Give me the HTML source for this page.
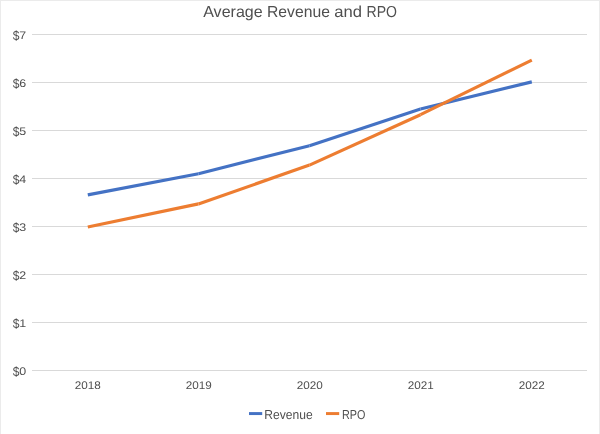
<!DOCTYPE html>
<html>
<head>
<meta charset="utf-8">
<title>Average Revenue and RPO</title>
<style>
html,body{margin:0;padding:0;background:#ffffff;}
body{width:600px;height:434px;overflow:hidden;font-family:"Liberation Sans",sans-serif;}
svg{display:block;will-change:transform;}
text{font-family:"Liberation Sans",sans-serif;fill:#4f4f4f;text-rendering:geometricPrecision;}
</style>
</head>
<body>
<svg width="600" height="434" viewBox="0 0 600 434">
  <rect x="0" y="0" width="600" height="434" fill="#ffffff"/>
  <!-- chart border (top, left, right) -->
  <rect x="0" y="0" width="600" height="1" fill="#ebebeb"/>
  <rect x="0" y="0" width="1" height="434" fill="#ebebeb"/>
  <rect x="599" y="0" width="1" height="434" fill="#ebebeb"/>
  <!-- title -->
  <g>
    <text x="203.19" y="17" font-size="15.9" textLength="59.51" lengthAdjust="spacingAndGlyphs">Average</text>
    <text x="266.95" y="17" font-size="15.9" textLength="62.95" lengthAdjust="spacingAndGlyphs">Revenue</text>
    <text x="334.16" y="17" font-size="15.9" textLength="27.74" lengthAdjust="spacingAndGlyphs">and</text>
    <text x="366.50" y="17" font-size="15.9" textLength="30.48" lengthAdjust="spacingAndGlyphs">RPO</text>
  </g>
  <!-- gridlines -->
  <g fill="#d9d9d9">
    <rect x="32" y="34" width="555" height="1"/>
    <rect x="32" y="82" width="555" height="1"/>
    <rect x="32" y="130" width="555" height="1"/>
    <rect x="32" y="178" width="555" height="1"/>
    <rect x="32" y="226" width="555" height="1"/>
    <rect x="32" y="274" width="555" height="1"/>
    <rect x="32" y="322" width="555" height="1"/>
    <rect x="32" y="370" width="555" height="1"/>
  </g>
  <!-- y axis labels -->
  <g>
    <text x="12.68" y="39.6" font-size="13.2" textLength="6.70" lengthAdjust="spacingAndGlyphs">$</text>
    <text x="19.15" y="39" font-size="11" textLength="6.92" lengthAdjust="spacingAndGlyphs">7</text>
    <text x="12.68" y="87.6" font-size="13.2" textLength="6.70" lengthAdjust="spacingAndGlyphs">$</text>
    <text x="19.15" y="87" font-size="11" textLength="6.92" lengthAdjust="spacingAndGlyphs">6</text>
    <text x="12.68" y="135.6" font-size="13.2" textLength="6.70" lengthAdjust="spacingAndGlyphs">$</text>
    <text x="19.15" y="135" font-size="11" textLength="6.92" lengthAdjust="spacingAndGlyphs">5</text>
    <text x="12.68" y="183.6" font-size="13.2" textLength="6.70" lengthAdjust="spacingAndGlyphs">$</text>
    <text x="19.15" y="183" font-size="11" textLength="6.92" lengthAdjust="spacingAndGlyphs">4</text>
    <text x="12.68" y="231.6" font-size="13.2" textLength="6.70" lengthAdjust="spacingAndGlyphs">$</text>
    <text x="19.15" y="231" font-size="11" textLength="6.92" lengthAdjust="spacingAndGlyphs">3</text>
    <text x="12.68" y="279.6" font-size="13.2" textLength="6.70" lengthAdjust="spacingAndGlyphs">$</text>
    <text x="19.15" y="279" font-size="11" textLength="6.92" lengthAdjust="spacingAndGlyphs">2</text>
    <text x="12.68" y="327.6" font-size="13.2" textLength="6.70" lengthAdjust="spacingAndGlyphs">$</text>
    <text x="19.15" y="327" font-size="11" textLength="6.92" lengthAdjust="spacingAndGlyphs">1</text>
    <text x="12.68" y="375.6" font-size="13.2" textLength="6.70" lengthAdjust="spacingAndGlyphs">$</text>
    <text x="19.15" y="375" font-size="11" textLength="6.92" lengthAdjust="spacingAndGlyphs">0</text>
  </g>
  <!-- x axis labels -->
  <g>
    <text x="74.75" y="389" font-size="11" textLength="26.07" lengthAdjust="spacingAndGlyphs">2018</text>
    <text x="185.75" y="389" font-size="11" textLength="26.07" lengthAdjust="spacingAndGlyphs">2019</text>
    <text x="296.75" y="389" font-size="11" textLength="26.07" lengthAdjust="spacingAndGlyphs">2020</text>
    <text x="407.75" y="389" font-size="11" textLength="26.07" lengthAdjust="spacingAndGlyphs">2021</text>
    <text x="518.75" y="389" font-size="11" textLength="26.07" lengthAdjust="spacingAndGlyphs">2022</text>
  </g>
  <!-- series: Revenue -->
  <g stroke="#4472c4" stroke-width="3.15" stroke-linecap="butt" fill="none">
    <line x1="87.8" y1="194.9" x2="198.5" y2="173.7"/>
    <line x1="198.5" y1="173.7" x2="309.5" y2="145.7"/>
    <line x1="309.5" y1="145.7" x2="420.5" y2="109.0"/>
    <line x1="420.5" y1="109.0" x2="531.8" y2="81.9"/>
  </g>
  <!-- series: RPO -->
  <g stroke="#ed7d31" stroke-width="3.15" stroke-linecap="butt" fill="none">
    <line x1="87.8" y1="227.0" x2="198.5" y2="203.9"/>
    <line x1="198.5" y1="203.9" x2="309.5" y2="165.1"/>
    <line x1="309.5" y1="165.1" x2="420.5" y2="114.7"/>
    <line x1="420.5" y1="114.7" x2="531.8" y2="60.1"/>
  </g>
  <!-- legend swatches -->
  <rect x="249" y="412.1" width="13.2" height="2.95" fill="#4472c4"/>
  <rect x="326" y="412.1" width="13.2" height="2.95" fill="#ed7d31"/>
  <!-- legend labels -->
  <g>
    <text x="264.24" y="419" font-size="13.0" textLength="48.38" lengthAdjust="spacingAndGlyphs">Revenue</text>
    <text x="341.93" y="419" font-size="13.0" textLength="23.42" lengthAdjust="spacingAndGlyphs">RPO</text>
  </g>
</svg>
</body>
</html>
